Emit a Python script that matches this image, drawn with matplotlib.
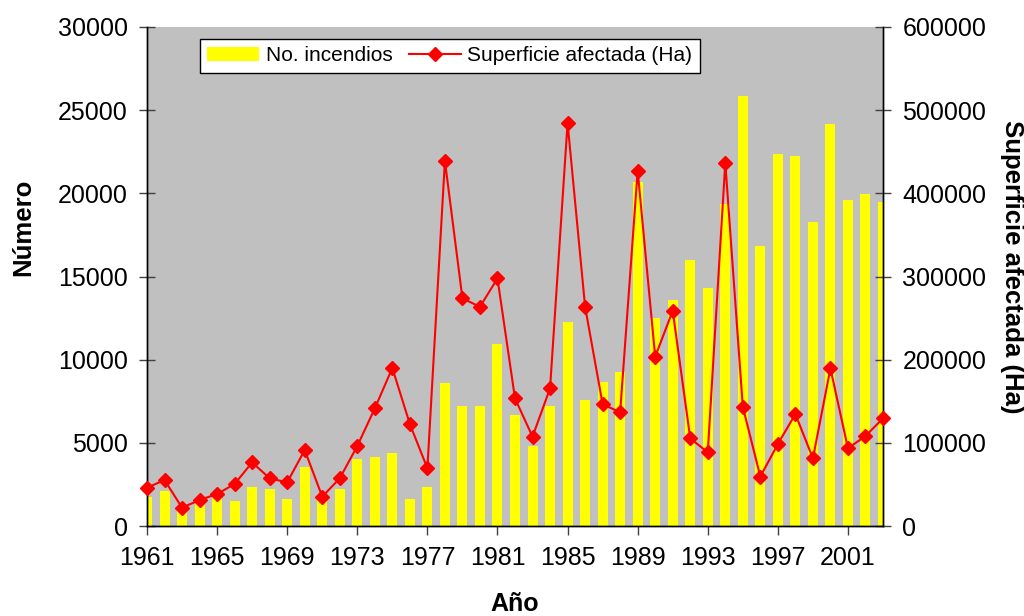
import matplotlib
matplotlib.use("Agg")
import matplotlib.pyplot as plt

plt.rcParams["font.family"] = ["Liberation Sans", "DejaVu Sans"]

YEARS = list(range(1961, 2004))

# Number of fires (left axis)
INCENDIOS = [
    1750, 2100, 1000, 1400, 1760, 1480, 2330, 2200, 1600, 3530,
    1900, 2200, 4010, 4130, 4370, 1600, 2330, 8570, 7230, 7230,
    10940, 6650, 4830, 7230, 12260, 7590, 8670, 9270, 20670, 12520,
    13600, 15990, 14300, 19350, 25840, 16830, 22360, 22240, 18270, 24160,
    19590, 19950, 19470,
]

# Burned area in hectares (right axis)
SUPERFICIE = [
    46000, 55300, 22000, 31250, 38500, 50500, 76500, 57300, 52500, 91300,
    35300, 57300, 96200, 141400, 190000, 122600, 69300, 439000, 273700, 263600,
    297700, 153400, 107400, 165500, 484800, 263600, 146600, 136600, 427100, 203500,
    258800, 105400, 88500, 436700, 143400, 59300, 98600, 134600, 81300, 189500,
    93400, 108200, 129400,
]

X_TICKS = list(range(1961, 2002, 4))
LEFT_TICKS = list(range(0, 30001, 5000))
RIGHT_TICKS = list(range(0, 600001, 100000))


def main() -> None:
    fig = plt.figure(figsize=(10.24, 6.16), dpi=100)
    ax = fig.add_axes([147 / 1024, 1 - 526 / 616, 736 / 1024, 499 / 616])
    ax.set_facecolor("#C0C0C0")

    bars = ax.bar(YEARS, INCENDIOS, width=0.57, color="#FFFF00", zorder=2,
                  label="No. incendios")
    ax.set_xlim(1961, 2003)
    ax.set_ylim(0, 30000)
    ax.set_yticks(LEFT_TICKS)
    ax.set_xticks(X_TICKS)
    ax.tick_params(axis="y", direction="inout", length=12, width=1, pad=8,
                   labelsize=18, color="#404040")
    ax.tick_params(axis="x", direction="out", length=6.5, width=1, pad=8,
                   labelsize=18, color="#404040")
    ax.set_ylabel("Número", fontsize=18.5, fontweight="bold", va="center")
    ax.yaxis.set_label_coords(-0.168, 0.599)
    ax.set_xlabel("Año", fontsize=18, fontweight="bold", va="center")
    ax.xaxis.set_label_coords(0.5, -0.156)

    ax2 = ax.twinx()
    line, = ax2.plot(YEARS, SUPERFICIE, color="#FF0000", linewidth=1.5,
                     marker="D", markersize=7.5, clip_on=False, zorder=3,
                     label="Superficie afectada (Ha)")
    ax2.set_ylim(0, 600000)
    ax2.set_yticks(RIGHT_TICKS)
    ax2.tick_params(axis="y", direction="inout", length=12, width=1, pad=8,
                    labelsize=18, color="#404040")
    ax2.set_ylabel("Superficie afectada (Ha)", fontsize=18.5, fontweight="bold",
                   rotation=-90, va="center")
    ax2.yaxis.set_label_coords(1.175, 0.52)

    for a in (ax, ax2):
        a.spines["top"].set_visible(False)
        for s in ("left", "right", "bottom"):
            a.spines[s].set_linewidth(1)
            a.spines[s].set_color("black")

    leg = ax2.legend([bars, line], ["No. incendios", "Superficie afectada (Ha)"],
                     loc="upper left", bbox_to_anchor=(0.072, 0.976),
                     ncol=2, fontsize=15, frameon=True, fancybox=False,
                     handlelength=2.5, handleheight=0.7, handletextpad=0.3,
                     columnspacing=0.8, borderpad=0.35, borderaxespad=0)
    leg.get_frame().set_edgecolor("black")
    leg.get_frame().set_linewidth(1)
    leg.get_frame().set_facecolor("white")
    leg.get_frame().set_alpha(1)

    fig.savefig("out.png", dpi=100)
    plt.close(fig)


if __name__ == "__main__":
    main()
